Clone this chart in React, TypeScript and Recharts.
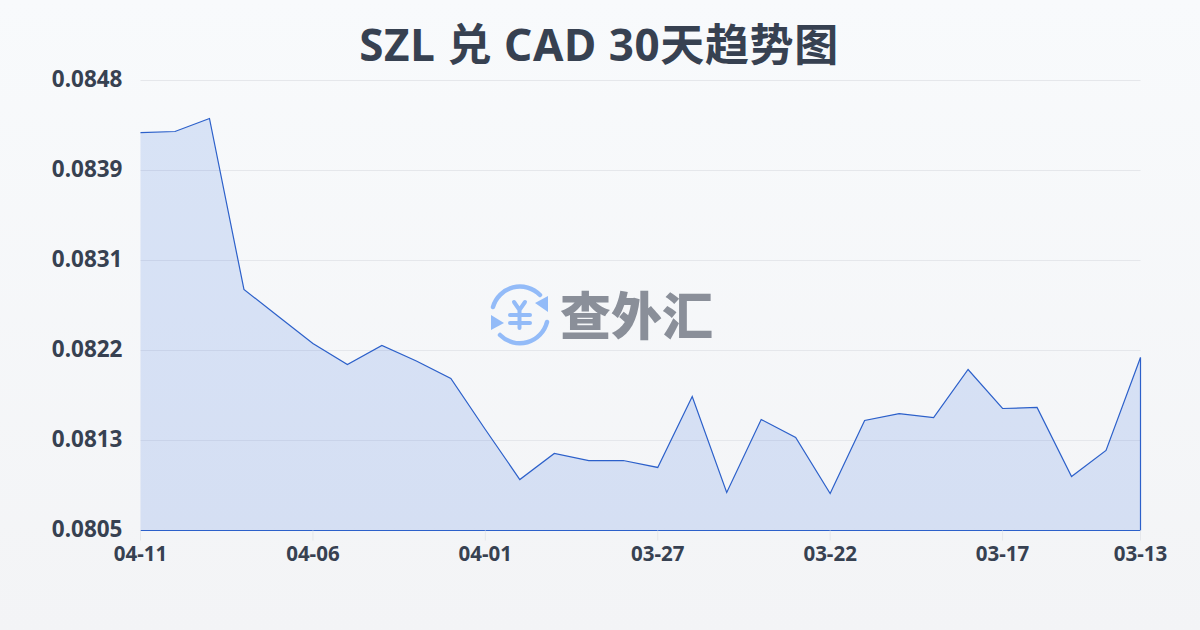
import { Area, AreaChart, CartesianGrid, ReferenceLine, XAxis, YAxis } from 'recharts';

const dates = [
	'04-11', '04-10', '04-09', '04-08', '04-07', '04-06', '04-05', '04-04', '04-03', '04-02',
	'04-01', '03-31', '03-30', '03-29', '03-28', '03-27', '03-26', '03-25', '03-24', '03-23',
	'03-22', '03-21', '03-20', '03-19', '03-18', '03-17', '03-16', '03-15', '03-14', '03-13',
];
const rates = [
	0.084284, 0.084294, 0.084418, 0.082788, 0.08253, 0.082273, 0.082073, 0.082254, 0.082106, 0.081939,
	0.081453, 0.080976, 0.081224, 0.081157, 0.081157, 0.081091, 0.081767, 0.080852, 0.081548, 0.081377,
	0.080843, 0.081539, 0.081605, 0.081567, 0.082025, 0.081653, 0.081663, 0.081005, 0.081253, 0.082139,
];
const xTicks = ['04-11', '04-06', '04-01', '03-27', '03-22', '03-17', '03-13'];
const yTicks = [0.08049, 0.081348, 0.082206, 0.083064, 0.083922, 0.08478];

const data = dates.map((date, i) => ({ date, rate: rates[i] }));

const FONT = '"Noto Sans", "Noto Sans CJK SC", sans-serif';
const LINE = '#2c60ca';

function YTick({ x, y, payload }: any) {
	return (
		<text x={x} y={y - 2} dy="0.36em" textAnchor="end" fill="#374151" fontSize={22.5} fontWeight={700} fontFamily={FONT}>
			{payload.value.toFixed(4)}
		</text>
	);
}

function XTick({ x, y, payload }: any) {
	return (
		<text x={x} y={y + 6} dy="0.71em" textAnchor="middle" fill="#374151" fontSize={20.5} fontWeight={700} fontFamily={FONT}>
			{payload.value}
		</text>
	);
}

function Watermark() {
	return (
		<div style={{ position: 'absolute', left: 488, top: 282, width: 240, height: 66 }}>
			<svg width={66} height={66} style={{ position: 'absolute', left: 0, top: 0 }}>
				<g fill="none" stroke="#93bbf8" strokeWidth={4.5} strokeLinecap="round">
					<path d="M5 25 A28 28 0 0 1 52 13" />
					<path d="M59 40 A28 28 0 0 1 12 53" />
					<path d="M31.5 28 L31.5 46 M22 33 L42 33 M22 41 L42 41 M26 20 L31.5 28 L37 20" strokeWidth={4} />
				</g>
				<path d="M60 14 L60 30 L47 21 Z M3 33 L3 48 L16 41 Z" fill="#93bbf8" />
			</svg>
			<div
				style={{
					position: 'absolute',
					left: 72,
					top: -4,
					fontFamily: '"Noto Sans CJK SC"',
					fontWeight: 900,
					fontSize: 51,
					lineHeight: '70px',
					color: '#8a8f99',
					whiteSpace: 'nowrap',
				}}
			>
				查外汇
			</div>
		</div>
	);
}

export default function App() {
	return (
		<div
			style={{
				position: 'absolute',
				left: 0,
				top: 0,
				width: 1200,
				height: 630,
				overflow: 'hidden',
				background: 'linear-gradient(180deg, #f8fafc 0%, #f3f4f6 100%)',
			}}
		>
			<div
				style={{
					position: 'absolute',
					left: 0,
					top: 14,
					width: 1198,
					textAlign: 'center',
					fontFamily: FONT,
					fontWeight: 700,
					fontSize: 44,
					letterSpacing: 0.6,
					lineHeight: '60px',
					color: '#374151',
				}}
			>
				SZL 兑 CAD 30天趋势图
			</div>
			<Watermark />
			<div style={{ position: 'absolute', left: 0, top: 0 }}>
				<AreaChart
					width={1200}
					height={630}
					data={data}
					margin={{ top: 80.5, right: 59.5, left: 70.5, bottom: 69.5 }}
				>
					<CartesianGrid vertical={false} stroke="#e5e7eb" strokeWidth={1} />
					<XAxis
						dataKey="date"
						ticks={xTicks}
						interval={0}
						height={30}
						axisLine={{ stroke: LINE }}
						tickLine={{ stroke: '#e5e7eb' }}
						tickSize={10}
						tickMargin={0}
						tick={XTick}
					/>
					<YAxis
						width={70}
						domain={[yTicks[0], yTicks[yTicks.length - 1]]}
						ticks={yTicks}
						axisLine={false}
						tickLine={false}
						tickMargin={12}
						tick={YTick}
					/>
					<Area
						type="linear"
						dataKey="rate"
						stroke={LINE}
						strokeWidth={1.2}
						fill="#2763e0"
						fillOpacity={0.15}
						isAnimationActive={false}
						dot={false}
						activeDot={false}
					/>
					<ReferenceLine stroke={LINE} strokeWidth={1.2} segment={[{ x: dates[0], y: yTicks[0] }, { x: dates[0], y: rates[0] }]} />
					<ReferenceLine stroke={LINE} strokeWidth={1.2} segment={[{ x: dates[29], y: yTicks[0] }, { x: dates[29], y: rates[29] }]} />
				</AreaChart>
			</div>
		</div>
	);
}
